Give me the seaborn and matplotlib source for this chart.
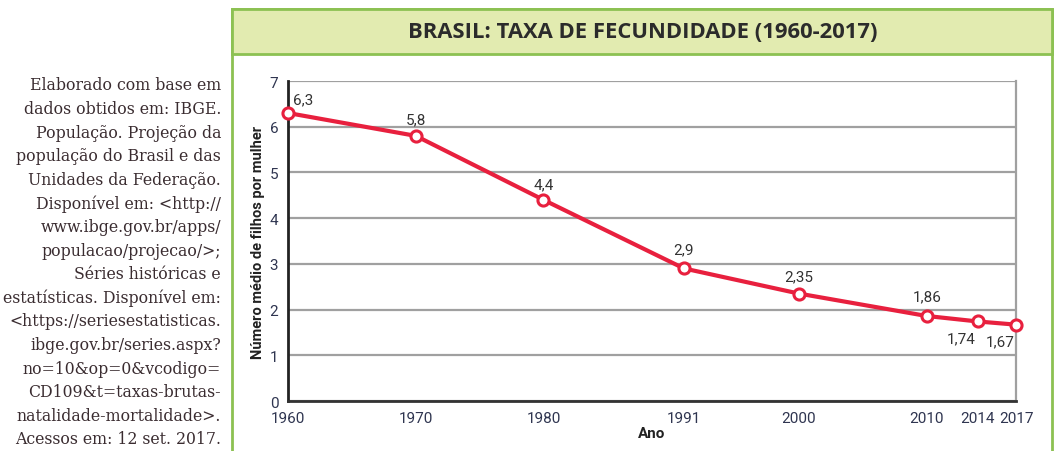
import numpy as np
import pandas as pd
import matplotlib.pyplot as plt
import seaborn as sns
from matplotlib.patches import Rectangle

# Dados do gráfico
anos = [1960, 1970, 1980, 1991, 2000, 2010, 2014, 2017]
taxas = [6.3, 5.8, 4.4, 2.9, 2.35, 1.86, 1.74, 1.67]
rotulos = ["6,3", "5,8", "4,4", "2,9", "2,35", "1,86", "1,74", "1,67"]
y_ticks = [0, 1, 2, 3, 4, 5, 6, 7]

titulo = "BRASIL: TAXA DE FECUNDIDADE (1960-2017)"
fonte_txt = [
    "Elaborado com base em",
    "dados obtidos em: IBGE.",
    "População. Projeção da",
    "população do Brasil e das",
    "Unidades da Federação.",
    "Disponível em: <http://",
    "www.ibge.gov.br/apps/",
    "populacao/projecao/>;",
    "Séries históricas e",
    "estatísticas. Disponível em:",
    "<https://seriesestatisticas.",
    "ibge.gov.br/series.aspx?",
    "no=10&op=0&vcodigo=",
    "CD109&t=taxas-brutas-",
    "natalidade-mortalidade>.",
    "Acessos em: 12 set. 2017.",
]

sns.set_theme(style="white")
cond = ["Liberation Sans Narrow", "Roboto", "DejaVu Sans"]
plt.rcParams["font.family"] = cond

W, H = 1060, 452
fig = plt.figure(figsize=(W / 100, H / 100), dpi=100)
fig.patch.set_facecolor("white")

def fx(px):
    return px / W

def fy(py):
    return 1 - py / H

verde = "#8cc152"
# moldura verde (atrás dos eixos)
fig.patches.append(Rectangle((fx(232), fy(460)), fx(1052) - fx(232), fy(10) - fy(460),
                             transform=fig.transFigure, facecolor="white",
                             edgecolor=verde, lw=2, zorder=-2))
fig.patches.append(Rectangle((fx(232), fy(55)), fx(1052) - fx(232), fy(10) - fy(55),
                             transform=fig.transFigure, facecolor="#e2ebb0",
                             edgecolor=verde, lw=2, zorder=-1))
fig.text(fx(643), fy(33), titulo, ha="center", va="center", fontsize=15.8,
         fontweight="bold", color="#2b2b2b", family=["Open Sans", "DejaVu Sans"])

# texto da fonte
for i, linha in enumerate(fonte_txt):
    fig.text(fx(221), fy(86 + i * 23.6), linha, ha="right", va="center",
             fontsize=11.3, color="#3a2c30", family=["DejaVu Serif"])

ax = fig.add_axes([fx(288), fy(402), fx(1016) - fx(288), fy(82) - fy(402)])
ax.patch.set_alpha(0)
df = pd.DataFrame({"ano": anos, "taxa": taxas})
vermelho = "#e8203e"
sns.lineplot(data=df, x="ano", y="taxa", ax=ax, color=vermelho, lw=3,
             marker="o", markersize=8, markerfacecolor="white",
             markeredgecolor=vermelho, markeredgewidth=2.2, zorder=5, clip_on=False)

offsets = [(15, 14), (0, 17), (0, 16), (0, 19), (0, 17), (1, 20), (-16, -17), (-16, -17)]
for a, t, r, (dx, dy) in zip(anos, taxas, rotulos, offsets):
    ax.annotate(r, (a, t), xytext=(dx, dy), textcoords="offset pixels",
                ha="center", va="center", fontsize=11, color="#333333")

ax.set_xlim(1960, 2017)
ax.set_ylim(0, 7)
ax.set_xticks(anos)
ax.set_xticklabels([str(a) for a in anos])
ax.set_yticks(y_ticks)
ax.yaxis.grid(True, color="#a0a0a0", lw=1.6)
ax.set_axisbelow(True)
ax.spines["top"].set_visible(False)
ax.spines["right"].set_color("#a0a0a0")
ax.spines["right"].set_linewidth(1.6)
ax.spines["left"].set_color("#222222")
ax.spines["left"].set_linewidth(2)
ax.spines["bottom"].set_color("#333333")
ax.spines["bottom"].set_linewidth(2)
ax.tick_params(axis="both", direction="out", length=4, width=2, color="#222222",
               labelsize=11, labelcolor="#2f3550", pad=3)
ax.set_xlabel("Ano", fontsize=11, fontweight="bold", color="#222222", labelpad=1)
ax.set_ylabel("Número médio de filhos por mulher", fontsize=10.5, fontweight="bold",
              color="#222222", labelpad=3)

fig.savefig("out.png", dpi=100)
